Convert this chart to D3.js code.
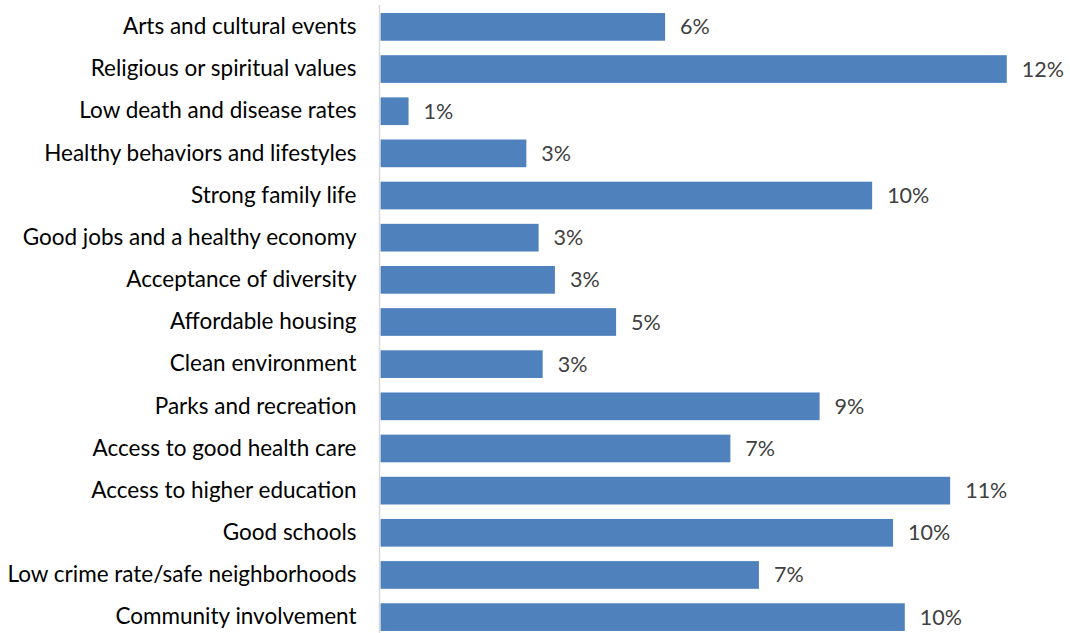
<!DOCTYPE html>
<html>
<head>
<meta charset="utf-8">
<script src="https://cdn.jsdelivr.net/npm/d3@7"></script>
<style>
  html, body { margin: 0; padding: 0; background: #fff; }
  svg { display: block; }
</style>
</head>
<body>
<svg id="chart" width="1070" height="633"></svg>
<script>
const categories = [
  "Arts and cultural events",
  "Religious or spiritual values",
  "Low death and disease rates",
  "Healthy behaviors and lifestyles",
  "Strong family life",
  "Good jobs and a healthy economy",
  "Acceptance of diversity",
  "Affordable housing",
  "Clean environment",
  "Parks and recreation",
  "Access to good health care",
  "Access to higher education",
  "Good schools",
  "Low crime rate/safe neighborhoods",
  "Community involvement"
];
const values = [5.58, 12.28, 0.55, 2.86, 9.64, 3.10, 3.42, 4.62, 3.18, 8.61, 6.86, 11.17, 10.05, 7.42, 10.28];

const svg = d3.select("#chart");
const axisX = 380.5;
const fontFamily = "Lato, 'Open Sans', sans-serif";
const catFontSize = 22.5;
const valFontSize = 21.5;

const x = d3.scaleLinear().domain([0, 13]).range([axisX, axisX + 13 * 51]);
const y = d3.scaleBand().domain(categories).range([5.8, 638.2])
  .paddingInner(0.343).paddingOuter(0.1715);

const data = categories.map((c, i) => ({ c, v: values[i] }));

svg.selectAll("rect.bar").data(data).enter().append("rect")
  .attr("class", "bar")
  .attr("x", x(0))
  .attr("y", d => y(d.c))
  .attr("width", d => x(d.v) - x(0))
  .attr("height", y.bandwidth())
  .attr("fill", "#4f81bd");

// category axis
const yAxis = d3.axisLeft(y).tickSize(0).tickPadding(24);
const g = svg.append("g").attr("transform", `translate(${axisX},0)`).call(yAxis);
g.select(".domain").remove();
g.selectAll("text")
  .attr("font-family", fontFamily)
  .attr("font-size", catFontSize)
  .attr("fill", "#000");
svg.append("line")
  .attr("x1", axisX - 1).attr("x2", axisX - 1)
  .attr("y1", 5).attr("y2", 633)
  .attr("stroke", "#d9d9d9").attr("stroke-width", 1.5);

svg.selectAll("text.val").data(data).enter().append("text")
  .attr("class", "val")
  .attr("x", d => x(d.v) + 15)
  .attr("y", d => y(d.c) + y.bandwidth() / 2)
  .attr("dy", "0.35em")
  .attr("font-family", fontFamily)
  .attr("font-size", valFontSize)
  .attr("fill", "#404040")
  .text(d => Math.round(d.v) + "%");
</script>
</body>
</html>
